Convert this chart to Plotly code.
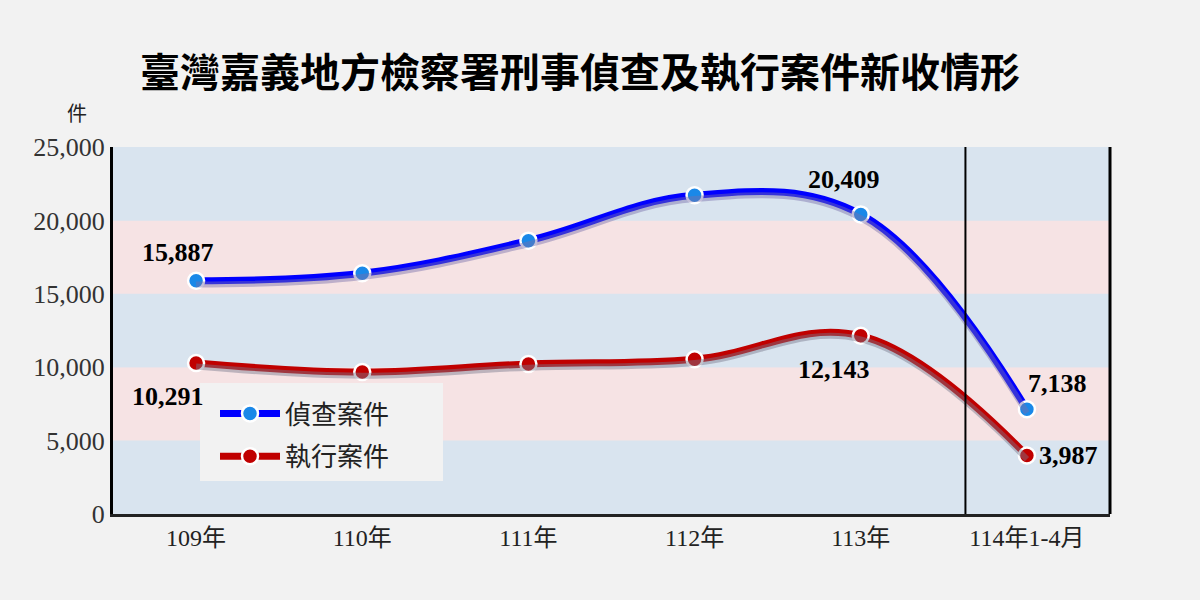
import plotly.graph_objects as go

categories = ["109年", "110年", "111年", "112年", "113年", "114年1-4月"]
investigation = [15887, 16400, 18620, 21710, 20409, 7138]
execution = [10291, 9670, 10220, 10540, 12143, 3987]
series_names = ["偵查案件", "執行案件"]
y_ticks = [0, 5000, 10000, 15000, 20000, 25000]
title_text = "臺灣嘉義地方檢察署刑事偵查及執行案件新收情形"
unit_text = "件"

x_idx = list(range(len(categories)))

BG = "#f2f2f2"
BAND_BLUE = "#d9e4ef"
BAND_PINK = "#f6e3e4"
SERIF = "Liberation Serif, Times New Roman, serif"
CJK = "Noto Sans CJK TC, Noto Sans CJK SC, sans-serif"

# plot area in pixels
L, R, T, B = 113, 1110, 147, 514
PW, PH = R - L, B - T


def px_x(p):
    return (p - L) / PW


def px_y(p):
    return (B - p) / PH


fig = go.Figure()

# shadow traces (on an overlay axis shifted slightly down)
shadow_shift = 250
for vals, col in [(investigation, "rgba(120,110,170,0.45)"), (execution, "rgba(120,120,140,0.45)")]:
    fig.add_trace(go.Scatter(
        x=x_idx, y=vals, mode="lines", yaxis="y2", xaxis="x",
        line=dict(color=col, width=6, shape="spline", smoothing=1.1),
        showlegend=False, hoverinfo="skip"))

fig.add_trace(go.Scatter(
    x=x_idx, y=investigation, mode="lines+markers", name=series_names[0],
    legendgroup="a",
    line=dict(color="#0000ff", width=7, shape="spline", smoothing=1.1),
    marker=dict(size=16, color="#1a88e8", line=dict(color="white", width=2.5))))
fig.add_trace(go.Scatter(
    x=x_idx, y=execution, mode="lines+markers", name=series_names[1],
    legendgroup="b",
    line=dict(color="#c00000", width=7, shape="spline", smoothing=1.1),
    marker=dict(size=16, color="#c00000", line=dict(color="white", width=2.5))))

# background bands
shapes = []
for i in range(len(y_ticks) - 1):
    shapes.append(dict(type="rect", xref="paper", yref="y", x0=0, x1=1,
                       y0=y_ticks[i], y1=y_ticks[i + 1],
                       fillcolor=BAND_BLUE if i % 2 == 0 else BAND_PINK,
                       line=dict(width=0), layer="below"))
# legend box
shapes.append(dict(type="rect", xref="paper", yref="paper",
                   x0=px_x(200), x1=px_x(443), y0=px_y(481), y1=px_y(383),
                   fillcolor=BG, line=dict(width=0), layer="below"))
# right border
shapes.append(dict(type="line", xref="paper", yref="paper", x0=1, x1=1, y0=0, y1=1,
                   line=dict(color="black", width=3)))
# separator line between annual and partial-year data
shapes.append(dict(type="line", xref="x", yref="paper", x0=4.63, x1=4.63, y0=0, y1=1,
                   line=dict(color="black", width=2)))

annotations = []
label_offsets_inv = [(-18, 28, "center"), None, None, None, (-17, 35, "center"), (31, 26, "center")]
label_offsets_exe = [(-28, -34, "center"), None, None, None, (-27, -34, "center"), (10, 0, "left")]
for vals, offs in [(investigation, label_offsets_inv), (execution, label_offsets_exe)]:
    for i, v in enumerate(vals):
        if offs[i] is None:
            continue
        annotations.append(dict(x=i, y=v, xref="x", yref="y", text=f"<b>{v:,}</b>",
                                showarrow=False, xshift=offs[i][0], yshift=offs[i][1],
                                xanchor=offs[i][2], yanchor="middle",
                                font=dict(family=SERIF, size=26, color="black")))
annotations.append(dict(xref="paper", yref="paper", x=px_x(580), y=px_y(70),
                        xanchor="center", yanchor="middle",
                        text=f"<b>{title_text}</b>", showarrow=False,
                        font=dict(family=CJK, size=40, color="black")))
annotations.append(dict(xref="paper", yref="paper", x=px_x(77), y=px_y(112),
                        xanchor="center", yanchor="middle",
                        text=unit_text, showarrow=False,
                        font=dict(family=CJK, size=20, color="#222")))

fig.update_layout(
    width=1200, height=600,
    paper_bgcolor=BG, plot_bgcolor=BAND_BLUE,
    margin=dict(l=L, r=1200 - R, t=T, b=600 - B),
    shapes=shapes, annotations=annotations,
    xaxis=dict(range=[-0.5, 5.5], tickmode="array", tickvals=x_idx, ticktext=categories,
               showgrid=False, zeroline=False, showline=True, linecolor="#222", linewidth=3,
               ticks="", tickfont=dict(family=SERIF + ", " + CJK, size=24, color="#222")),
    yaxis=dict(range=[0, 25000], tickvals=y_ticks, tickformat=",", showgrid=False,
               zeroline=False, showline=True, linecolor="black", linewidth=3, ticks="",
               tickfont=dict(family=SERIF, size=26, color="#333")),
    yaxis2=dict(range=[shadow_shift, 25000 + shadow_shift], overlaying="y", visible=False),
    legend=dict(x=px_x(215), y=px_y(390), xanchor="left", yanchor="top",
                bgcolor="rgba(0,0,0,0)", font=dict(family=CJK, size=26, color="#222"),
                itemwidth=60, tracegroupgap=6, borderwidth=0),
    showlegend=True,
)
fig.write_html("out.html", config={"displayModeBar": False},
               post_script="document.body.style.margin='0';document.body.style.background='#f2f2f2';")
